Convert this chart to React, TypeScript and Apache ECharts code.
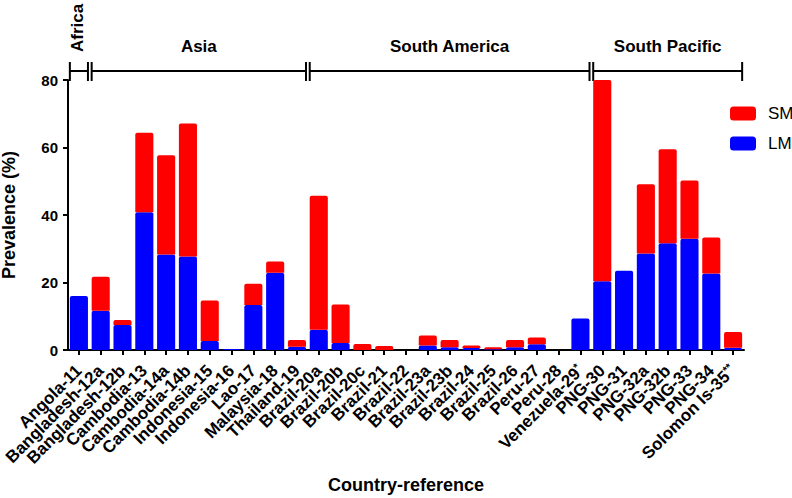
import React, { useEffect, useRef } from "react";
import * as echarts from "echarts";

const categories = [
  "Angola-11", "Bangladesh-12a", "Bangladesh-12b", "Cambodia-13", "Cambodia-14a",
  "Cambodia-14b", "Indonesia-15", "Indonesia-16", "Lao-17", "Malaysia-18",
  "Thailand-19", "Brazil-20a", "Brazil-20b", "Brazil-20c", "Brazil-21",
  "Brazil-22", "Brazil-23a", "Brazil-23b", "Brazil-24", "Brazil-25",
  "Brazil-26", "Peru-27", "Peru-28", "Venezuela-29*", "PNG-30",
  "PNG-31", "PNG-32a", "PNG-32b", "PNG-33", "PNG-34", "Solomon Is-35**",
];

const lmValues = [
  16.0, 11.6, 7.4, 40.8, 28.3, 27.7, 2.7, 0.3, 13.3, 22.9,
  1.0, 6.0, 2.1, 0, 0, 0, 1.3, 0.8, 0.6, 0.2,
  0.8, 1.7, 0, 9.3, 20.4, 23.5, 28.6, 31.6, 33.0, 22.7, 0.7,
];

const smValues = [
  0, 10.1, 1.5, 23.6, 29.4, 39.4, 12.0, 0, 6.3, 3.3,
  2.0, 39.7, 11.4, 1.8, 1.2, 0, 3.0, 2.2, 0.7, 0.6,
  2.2, 2.0, 0, 0, 59.6, 0, 20.5, 27.9, 17.2, 10.6, 4.6,
];

const yTicks = [0, 20, 40, 60, 80];

const regions = [
  { name: "Africa", from: 0, to: 0, vertical: true },
  { name: "Asia", from: 1, to: 10, vertical: false },
  { name: "South America", from: 11, to: 23, vertical: false },
  { name: "South Pacific", from: 24, to: 30, vertical: false },
];

const FONT = "'Liberation Sans', Arial, Helvetica, sans-serif";

export default function App() {
  const ref = useRef<HTMLDivElement>(null);

  useEffect(() => {
    if (!ref.current) return;
    const chart = echarts.init(ref.current, null, { renderer: "svg" });
    chart.setOption({
      animation: false,
      backgroundColor: "#ffffff",
      textStyle: { fontFamily: FONT },
      grid: {
        left: 68,
        right: 48,
        top: 80,
        bottom: 148,
        containLabel: false,
        outerBoundsMode: "none",
      },
      legend: {
        data: ["SM", "LM"],
        orient: "vertical",
        left: 725,
        top: 100,
        itemWidth: 26,
        itemHeight: 14,
        itemGap: 13,
        icon: "roundRect",
        textStyle: { fontSize: 17, color: "#000", fontFamily: FONT, padding: [0, 0, 0, 7] },
      },
      xAxis: {
        type: "category",
        data: categories,
        name: "Country-reference",
        nameLocation: "middle",
        nameGap: 126,
        nameTextStyle: { fontSize: 18, fontWeight: "bold", color: "#000", fontFamily: FONT },
        axisLine: { show: true, lineStyle: { color: "#000", width: 2 } },
        axisTick: { show: true, alignWithLabel: true, length: 5, lineStyle: { color: "#000", width: 2 } },
        axisLabel: {
          interval: 0,
          rotate: 45,
          margin: 18,
          fontSize: 17,
          fontWeight: "bold",
          color: "#000",
          fontFamily: FONT,
          formatter: (v: string) => {
            const m = v.match(/^(.*?)(\*+)$/);
            return m ? `{b|${m[1]}}{sup|${m[2]}}` : `{b|${v}}`;
          },
          rich: {
            b: { fontSize: 17, fontWeight: "bold", color: "#000", fontFamily: FONT, lineHeight: 19 },
            sup: { fontSize: 11, fontWeight: "bold", color: "#000", fontFamily: FONT, verticalAlign: "top", lineHeight: 19 },
          },
        },
      },
      yAxis: {
        type: "value",
        min: 0,
        max: 80,
        interval: 20,
        name: "Prevalence (%)",
        nameLocation: "middle",
        nameGap: 50,
        nameTextStyle: { fontSize: 18, fontWeight: "bold", color: "#000", fontFamily: FONT },
        axisLine: { show: true, lineStyle: { color: "#000", width: 2 } },
        axisTick: { show: true, length: 5, lineStyle: { color: "#000", width: 2 } },
        axisLabel: {
          fontSize: 15,
          fontWeight: "bold",
          color: "#000",
          margin: 10,
          fontFamily: FONT,
          formatter: (v: number) => (yTicks.includes(v) ? String(v) : ""),
        },
        splitLine: { show: false },
      },
      series: [
        {
          name: "LM",
          type: "bar",
          stack: "total",
          data: lmValues,
          barCategoryGap: "17%",
          itemStyle: { color: "#0000FF", borderRadius: [2, 2, 0, 0] },
        },
        {
          name: "SM",
          type: "bar",
          stack: "total",
          data: smValues,
          barCategoryGap: "17%",
          itemStyle: { color: "#FF0000", borderRadius: [2, 2, 0, 0] },
        },
      ],
    });

    // Region brackets, positioned from the chart's own scales
    const c0 = chart.convertToPixel({ xAxisIndex: 0 }, 0) as number;
    const c1 = chart.convertToPixel({ xAxisIndex: 0 }, 1) as number;
    const band = c1 - c0;
    const half = (band * 0.83) / 2;
    const yTop = chart.convertToPixel({ yAxisIndex: 0 }, 80) as number;
    const lineY = yTop - 9;
    const graphics: any[] = [];
    regions.forEach((r) => {
      const x1 = (chart.convertToPixel({ xAxisIndex: 0 }, r.from) as number) - half;
      const x2 = (chart.convertToPixel({ xAxisIndex: 0 }, r.to) as number) + half;
      const stroke = { stroke: "#000", lineWidth: 2 };
      graphics.push({ type: "line", shape: { x1, y1: lineY, x2, y2: lineY }, style: stroke, silent: true });
      graphics.push({ type: "line", shape: { x1, y1: lineY - 9, x2: x1, y2: lineY + 10 }, style: stroke, silent: true });
      graphics.push({ type: "line", shape: { x1: x2, y1: lineY - 9, x2: x2, y2: lineY + 10 }, style: stroke, silent: true });
      const mid = (x1 + x2) / 2;
      const textStyle = {
        text: r.name,
        fontSize: 17,
        fontWeight: "bold",
        fontFamily: FONT,
        fill: "#000",
      };
      if (r.vertical) {
        graphics.push({
          type: "group",
          x: mid - 1,
          y: lineY - 19,
          rotation: Math.PI / 2,
          silent: true,
          children: [
            {
              type: "text",
              x: 0,
              y: 0,
              style: { ...textStyle, align: "left", verticalAlign: "middle" },
            },
          ],
        });
      } else {
        graphics.push({
          type: "text",
          x: mid,
          y: lineY - 25,
          style: { ...textStyle, align: "center", verticalAlign: "middle" },
          silent: true,
        });
      }
    });
    chart.setOption({ graphic: graphics });

    return () => chart.dispose();
  }, []);

  return (
    <div
      ref={ref}
      style={{ position: "fixed", left: 0, top: 0, width: 792, height: 498, background: "#fff" }}
    />
  );
}
